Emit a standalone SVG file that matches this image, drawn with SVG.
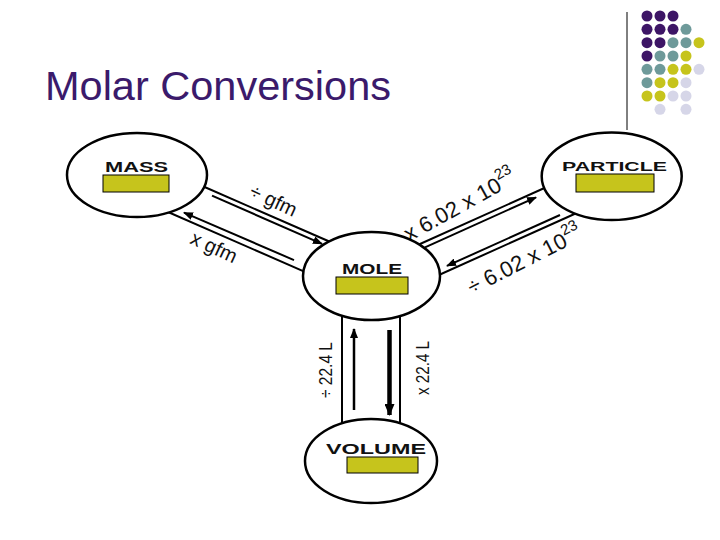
<svg xmlns="http://www.w3.org/2000/svg" width="720" height="540" viewBox="0 0 720 540">
<style>
.node{fill:#fff;stroke:#000;stroke-width:2.5}
.box{fill:#c6c41c;stroke:#000;stroke-width:1}
.lbl{font-family:"Liberation Sans",Arial,sans-serif;font-weight:bold;fill:#111}
.rail{stroke:#000;stroke-width:2;fill:none}
.arr{stroke:#000;stroke-width:2;fill:none;marker-end:url(#ah)}
.t{font-family:"Liberation Sans",Arial,sans-serif;fill:#111}
.p{fill:#3d1566}.g{fill:#6e9a9a}.y{fill:#c6c41c}.l{fill:#d6d6e8}
</style>
<defs>
<marker id="ah" markerUnits="userSpaceOnUse" markerWidth="10" markerHeight="8" refX="9" refY="4" orient="auto">
<path d="M0,0 L10,4 L0,8 z" fill="#000"/>
</marker>
<marker id="ah2" markerUnits="userSpaceOnUse" markerWidth="12" markerHeight="10" refX="11" refY="5" orient="auto">
<path d="M0,0 L12,5 L0,10 z" fill="#000"/>
</marker>
</defs>
<rect width="720" height="540" fill="#fff"/>
<g id="decor">
<line x1="627" y1="12" x2="627" y2="130" stroke="#000" stroke-width="1"/>
<g>
<circle class="p" cx="647" cy="16" r="5.5"/><circle class="p" cx="660" cy="16" r="5.5"/><circle class="p" cx="673" cy="16" r="5.5"/>
<circle class="p" cx="647" cy="29.3" r="5.5"/><circle class="p" cx="660" cy="29.3" r="5.5"/><circle class="p" cx="673" cy="29.3" r="5.5"/><circle class="g" cx="686" cy="29.3" r="5.5"/>
<circle class="p" cx="647" cy="42.7" r="5.5"/><circle class="p" cx="660" cy="42.7" r="5.5"/><circle class="g" cx="673" cy="42.7" r="5.5"/><circle class="g" cx="686" cy="42.7" r="5.5"/><circle class="y" cx="699" cy="42.7" r="5.5"/>
<circle class="p" cx="647" cy="56" r="5.5"/><circle class="g" cx="660" cy="56" r="5.5"/><circle class="g" cx="673" cy="56" r="5.5"/><circle class="y" cx="686" cy="56" r="5.5"/>
<circle class="g" cx="647" cy="69.3" r="5.5"/><circle class="g" cx="660" cy="69.3" r="5.5"/><circle class="y" cx="673" cy="69.3" r="5.5"/><circle class="y" cx="686" cy="69.3" r="5.5"/><circle class="l" cx="699" cy="69.3" r="5.5"/>
<circle class="g" cx="647" cy="82.7" r="5.5"/><circle class="y" cx="660" cy="82.7" r="5.5"/><circle class="y" cx="673" cy="82.7" r="5.5"/><circle class="l" cx="686" cy="82.7" r="5.5"/>
<circle class="y" cx="647" cy="96" r="5.5"/><circle class="y" cx="660" cy="96" r="5.5"/><circle class="l" cx="673" cy="96" r="5.5"/><circle class="l" cx="686" cy="96" r="5.5"/>
<circle class="l" cx="660" cy="109.3" r="5.5"/><circle class="l" cx="686" cy="109.3" r="5.5"/>
</g>
<text x="45" y="100" font-family="'Liberation Sans',Arial,sans-serif" font-size="41.5" fill="#3b1a6b">Molar Conversions</text>
</g>
<g id="connectors">
<!-- MASS - MOLE -->
<line class="rail" x1="200" y1="185" x2="335" y2="244"/>
<line class="rail" x1="160" y1="208.5" x2="310" y2="274.1"/>
<line class="arr" x1="212" y1="195.7" x2="322" y2="243.8"/>
<line class="arr" x1="294" y1="260.1" x2="184" y2="212.6"/>
<!-- MOLE - PARTICLE -->
<line class="rail" x1="410" y1="248.5" x2="560" y2="181"/>
<line class="rail" x1="430" y1="279" x2="590" y2="207"/>
<line class="arr" x1="425" y1="247.3" x2="536" y2="197.3"/>
<line class="arr" x1="560" y1="215" x2="447" y2="265.9"/>
<!-- MOLE - VOLUME -->
<line class="rail" x1="342" y1="300" x2="342" y2="440"/>
<line class="rail" x1="400" y1="300" x2="400" y2="440"/>
<line stroke="#000" stroke-width="2.5" x1="354" y1="410" x2="354" y2="329" marker-end="url(#ah)"/>
<line stroke="#000" stroke-width="4.5" x1="389.5" y1="330" x2="389.5" y2="415" marker-end="url(#ah2)"/>
<!-- labels -->
<text class="t" font-size="20" transform="translate(248,196) rotate(25)">÷ gfm</text>
<text class="t" font-size="20" transform="translate(189,243) rotate(25)">x gfm</text>
<text class="t" font-size="22" transform="translate(409,242) rotate(-29)">x 6.02 x 10<tspan font-size="15" dy="-11">23</tspan></text>
<text class="t" font-size="22" transform="translate(472,295) rotate(-27)">÷ 6.02 x 10<tspan font-size="15" dy="-11">23</tspan></text>
<text class="t" font-size="19" text-anchor="middle" transform="translate(332,370) rotate(-90)" textLength="56" lengthAdjust="spacingAndGlyphs">÷ 22.4 L</text>
<text class="t" font-size="19" text-anchor="middle" transform="translate(429,368) rotate(-90)" textLength="54" lengthAdjust="spacingAndGlyphs">x 22.4 L</text>
</g>
<g id="mass">
<ellipse class="node" cx="137" cy="175" rx="70" ry="42"/>
<text class="lbl" x="105" y="171.5" font-size="14" textLength="63" lengthAdjust="spacingAndGlyphs">MASS</text>
<rect class="box" x="103" y="175" width="66" height="17"/>
</g>
<g id="particle">
<ellipse class="node" cx="611.7" cy="176.3" rx="70" ry="43.7"/>
<text class="lbl" x="562" y="171" font-size="13" textLength="105" lengthAdjust="spacingAndGlyphs">PARTICLE</text>
<rect class="box" x="576" y="174" width="78" height="18"/>
</g>
<g id="mole">
<ellipse class="node" cx="371.5" cy="276" rx="68.5" ry="44"/>
<text class="lbl" x="342" y="274" font-size="14" textLength="60" lengthAdjust="spacingAndGlyphs">MOLE</text>
<rect class="box" x="336" y="277" width="72" height="17"/>
</g>
<g id="volume">
<ellipse class="node" cx="371" cy="461" rx="66" ry="42"/>
<text class="lbl" x="326" y="454" font-size="15" textLength="100" lengthAdjust="spacingAndGlyphs">VOLUME</text>
<rect class="box" x="347" y="457" width="71" height="16"/>
</g>
</svg>
